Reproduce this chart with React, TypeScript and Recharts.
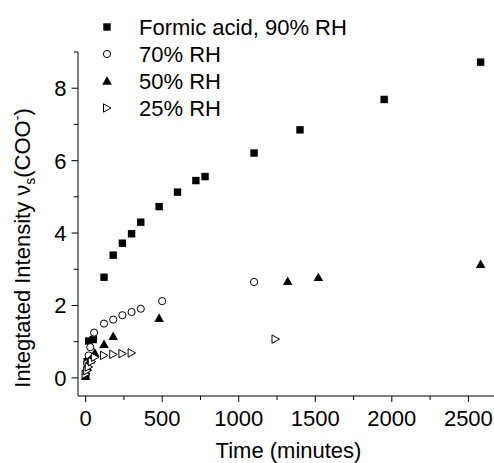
import React from 'react';
import { ScatterChart, Scatter, XAxis, YAxis, Legend } from 'recharts';

const FONT = '"Liberation Sans", Arial, Helvetica, sans-serif';

// series names (legend order)
const seriesNames = ['Formic acid, 90% RH', '70% RH', '50% RH', '25% RH'];

// time (minutes) and integrated intensity
const t90 = [0, 10, 20, 50, 120, 180, 240, 300, 360, 480, 600, 720, 780, 1100, 1400, 1950, 2580];
const v90 = [0.1, 0.45, 1.02, 1.06, 2.78, 3.39, 3.72, 3.98, 4.3, 4.73, 5.13, 5.45, 5.56, 6.21, 6.85, 7.69, 8.72];

const t70 = [0, 10, 20, 30, 55, 120, 180, 240, 300, 360, 500, 1100];
const v70 = [0.1, 0.4, 0.62, 0.85, 1.25, 1.5, 1.61, 1.73, 1.82, 1.91, 2.12, 2.65];

const t50 = [0, 10, 30, 60, 120, 180, 480, 1320, 1520, 2580];
const v50 = [0.05, 0.3, 0.5, 0.69, 0.93, 1.15, 1.65, 2.67, 2.78, 3.14];

const t25 = [0, 10, 20, 40, 60, 120, 180, 240, 300, 1240];
const v25 = [0.1, 0.2, 0.3, 0.45, 0.57, 0.62, 0.65, 0.67, 0.69, 1.07];

const xTicks = [0, 250, 500, 750, 1000, 1250, 1500, 1750, 2000, 2250, 2500];
const yTicks = [0, 1, 2, 3, 4, 5, 6, 7, 8, 9];

const toPoints = (t: number[], v: number[]) => t.map((x, i) => ({ t: x, v: v[i] }));

const data90 = toPoints(t90, v90);
const data70 = toPoints(t70, v70);
const data50 = toPoints(t50, v50);
const data25 = toPoints(t25, v25);

// marker shapes
const Square = ({ cx, cy }: any) => (
    <rect x={cx - 3.7} y={cy - 3.7} width={7.4} height={7.4} fill="#000" />
);
const OpenCircle = ({ cx, cy }: any) => (
    <circle cx={cx} cy={cy} r={3.6} fill="#fff" stroke="#000" strokeWidth={1} />
);
const UpTriangle = ({ cx, cy }: any) => (
    <path d={`M${cx},${cy - 4.8} L${cx + 4.8},${cy + 3.8} L${cx - 4.8},${cy + 3.8} Z`} fill="#000" />
);
const RightTriangle = ({ cx, cy }: any) => (
    <path
        d={`M${cx - 3.5},${cy - 4.2} L${cx + 4},${cy} L${cx - 3.5},${cy + 4.2} Z`}
        fill="#fff"
        stroke="#000"
        strokeWidth={1}
    />
);
const shapes = [Square, OpenCircle, UpTriangle, RightTriangle];

const XTick = (props: any) => {
    const { x, y, payload } = props;
    const major = payload.value % 500 === 0;
    return (
        <g>
            <line x1={x} y1={y} x2={x} y2={y + (major ? 6 : 4)} stroke="#000" />
            {major && (
                <text x={x} y={y + 29.5} textAnchor="middle" fontSize={22} fontFamily={FONT} fill="#000">
                    {payload.value}
                </text>
            )}
        </g>
    );
};

const YTick = (props: any) => {
    const { x, y, payload } = props;
    const major = payload.value % 2 === 0;
    return (
        <g>
            <line x1={x} y1={y} x2={x - (major ? 6.5 : 4.3)} y2={y} stroke="#000" />
            {major && (
                <text x={x - 11.5} y={y + 8} textAnchor="end" fontSize={22} fontFamily={FONT} fill="#000">
                    {payload.value}
                </text>
            )}
        </g>
    );
};

const XTitle = (props: any) => {
    const { viewBox } = props;
    return (
        <text x={viewBox.x + viewBox.width / 2} y={458} textAnchor="middle" fontSize={22} fontFamily={FONT} fill="#000">
            Time (minutes)
        </text>
    );
};

const YTitle = () => (
    <text
        x={29.5}
        y={248}
        transform="rotate(-90 29.5 248)"
        textAnchor="middle"
        fontSize={22}
        fontFamily={FONT}
        fill="#000"
    >
        Integtated Intensity ν
        <tspan fontSize={14} dy={5}>s</tspan>
        <tspan dy={-5}>(COO</tspan>
        <tspan fontSize={14} dy={-8}>-</tspan>
        <tspan dy={8}>)</tspan>
    </text>
);

const LegendBox = () => (
    <svg width={400} height={125} style={{ display: 'block' }}>
        {seriesNames.map((name, i) => {
            const Shape = shapes[i];
            const cy = 27 + i * 27;
            return (
                <g key={name}>
                    <Shape cx={107} cy={cy} />
                    <text x={139} y={cy + 8} fontSize={22} fontFamily={FONT} fill="#000">
                        {name}
                    </text>
                </g>
            );
        })}
    </svg>
);

const App = () => {
    return (
        <div
            style={{
                position: 'absolute',
                left: 0,
                top: 0,
                width: 494,
                height: 463,
                overflow: 'hidden',
                background: '#fff',
            }}
        >
            <ScatterChart width={500} height={463} margin={{ top: 52, right: 1, bottom: 0, left: 0 }}>
                <XAxis
                    type="number"
                    dataKey="t"
                    domain={[-50, 2700]}
                    ticks={xTicks}
                    interval={0}
                    height={67}
                    tickLine={false}
                    tickSize={0}
                    tickMargin={0}
                    tick={<XTick />}
                    axisLine={{ stroke: '#000', strokeWidth: 1 }}
                    allowDataOverflow
                    label={<XTitle />}
                />
                <YAxis
                    type="number"
                    dataKey="v"
                    domain={[-0.5, 9]}
                    ticks={yTicks}
                    interval={0}
                    width={78}
                    tickLine={false}
                    tickSize={0}
                    tickMargin={0}
                    tick={<YTick />}
                    axisLine={{ stroke: '#000', strokeWidth: 1 }}
                    allowDataOverflow
                    label={<YTitle />}
                />
                <Legend
                    layout="horizontal"
                    verticalAlign="middle"
                    content={<LegendBox />}
                    wrapperStyle={{ position: 'absolute', left: 0, top: 0, width: 400, height: 125 }}
                />
                <Scatter name={seriesNames[0]} data={data90} shape={<Square />} isAnimationActive={false} />
                <Scatter name={seriesNames[1]} data={data70} shape={<OpenCircle />} isAnimationActive={false} />
                <Scatter name={seriesNames[2]} data={data50} shape={<UpTriangle />} isAnimationActive={false} />
                <Scatter name={seriesNames[3]} data={data25} shape={<RightTriangle />} isAnimationActive={false} />
            </ScatterChart>
        </div>
    );
};

export default App;
